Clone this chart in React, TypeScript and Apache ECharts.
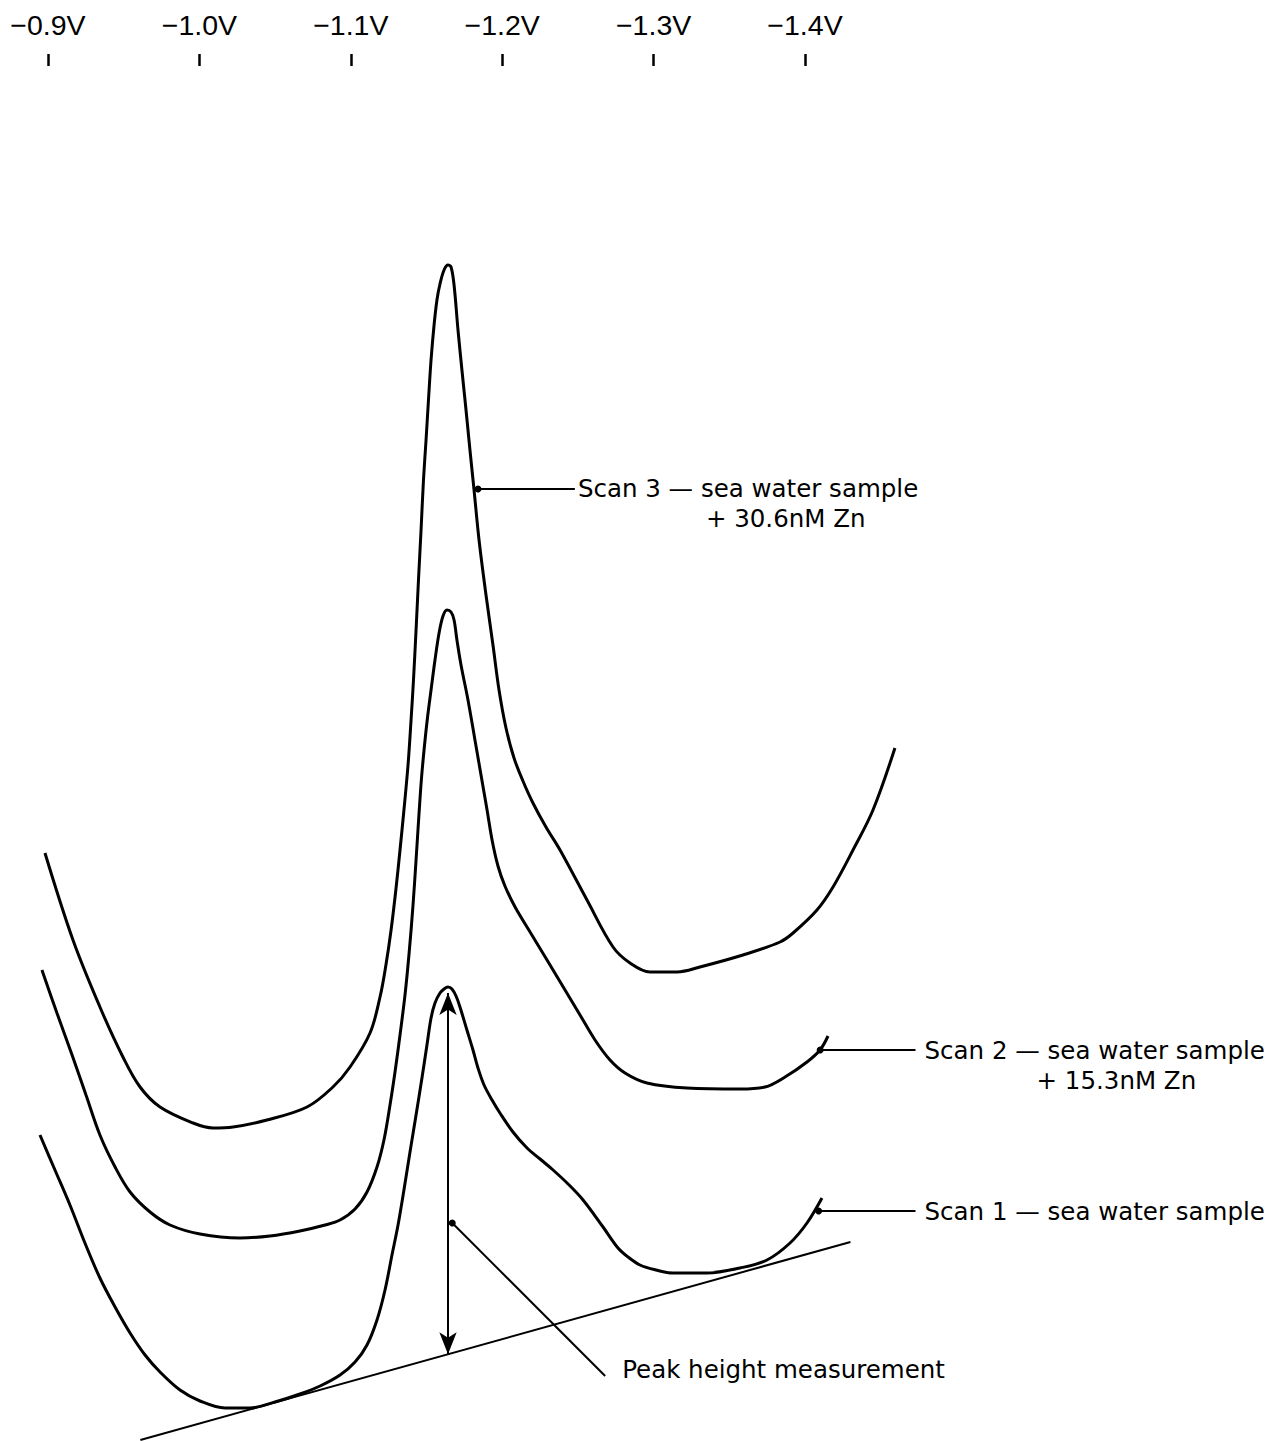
import React, { useEffect, useRef } from "react";
import * as echarts from "echarts";

// Potential axis (volts) tick values, shown along the top
const potentialTicks: number[] = [-0.9, -1.0, -1.1, -1.2, -1.3, -1.4];

// [potential (V), current (arbitrary units)]
const scan3: [number, number][] = [
  [-0.898, 58.8], [-0.9165, 50.1], [-0.9343, 43.4], [-0.9495, 38.4], [-0.9608, 35.4],
  [-0.974, 33.4], [-0.9958, 31.8], [-1.009, 31.3], [-1.0222, 31.4], [-1.0446, 32.1],
  [-1.0711, 33.4], [-1.0882, 35.4], [-1.0995, 37.4], [-1.1127, 40.8], [-1.1193, 44.4],
  [-1.1232, 47.6], [-1.1266, 51.1], [-1.1299, 55.3], [-1.1325, 59.1], [-1.1351, 63.1],
  [-1.1378, 67.6], [-1.1398, 72.1], [-1.1414, 76.1], [-1.1431, 81.1], [-1.1447, 86.1],
  [-1.1464, 91.1], [-1.148, 96.1], [-1.1497, 100.1], [-1.1513, 104.1], [-1.153, 108.1],
  [-1.155, 111.6], [-1.1569, 114.1], [-1.1589, 115.7], [-1.1616, 117.1], [-1.1642, 117.6],
  [-1.1662, 117.4], [-1.1682, 115.6], [-1.1708, 111.1], [-1.1734, 107.1], [-1.1761, 103.1],
  [-1.1787, 99.1], [-1.1814, 95.1], [-1.1847, 90.1], [-1.1893, 84.6], [-1.1939, 79.6],
  [-1.1979, 75.1], [-1.2025, 71.3], [-1.2078, 68.3], [-1.2137, 66.0], [-1.2203, 63.8],
  [-1.2289, 61.4], [-1.2382, 59.1], [-1.256, 54.1], [-1.2732, 49.4], [-1.2844, 47.8],
  [-1.2976, 46.9], [-1.3155, 46.9], [-1.3306, 47.4], [-1.359, 48.6], [-1.3835, 49.9],
  [-1.3921, 50.8], [-1.4079, 53.1], [-1.4185, 55.4], [-1.4317, 59.1], [-1.4449, 63.1],
  [-1.4594, 69.3],
];

const scan2: [number, number][] = [
  [-0.896, 47.1], [-0.9059, 42.8], [-0.9159, 38.6], [-0.9251, 34.6], [-0.9343, 30.6],
  [-0.9443, 27.4], [-0.9542, 24.9], [-0.9674, 22.9], [-0.9806, 21.6], [-1.0004, 20.7],
  [-1.0268, 20.3], [-1.0466, 20.5], [-1.0664, 21.0], [-1.083, 21.6], [-1.0929, 22.1],
  [-1.1028, 23.2], [-1.1107, 24.9], [-1.1173, 27.4], [-1.1219, 30.1], [-1.1259, 33.6],
  [-1.1292, 36.9], [-1.1325, 40.6], [-1.1358, 44.6], [-1.1384, 48.6], [-1.1411, 53.6],
  [-1.1431, 58.1], [-1.145, 62.6], [-1.1467, 66.3], [-1.1487, 69.6], [-1.1507, 72.4],
  [-1.153, 75.1], [-1.1556, 78.1], [-1.1583, 80.8], [-1.1609, 82.5], [-1.1635, 83.1],
  [-1.1662, 82.9], [-1.1682, 82.1], [-1.1701, 80.1], [-1.1728, 77.6], [-1.1774, 74.1],
  [-1.182, 70.1], [-1.186, 66.6], [-1.19, 63.1], [-1.1933, 60.1], [-1.1972, 57.5],
  [-1.2018, 55.5], [-1.2085, 53.4], [-1.2184, 50.9], [-1.2296, 48.1], [-1.2415, 45.1],
  [-1.2514, 42.6], [-1.2613, 40.1], [-1.2712, 38.1], [-1.2811, 36.8], [-1.2956, 35.8],
  [-1.3221, 35.3], [-1.3571, 35.2], [-1.3736, 35.4], [-1.3868, 36.4], [-1.4013, 37.9],
  [-1.4099, 39.1], [-1.4152, 40.5],
];

const scan1: [number, number][] = [
  [-0.8947, 30.6], [-0.9046, 27.1], [-0.9145, 23.6], [-0.9244, 19.8], [-0.9343, 16.3],
  [-0.9443, 13.4], [-0.9542, 10.8], [-0.9641, 8.6], [-0.974, 6.9], [-0.9872, 5.1],
  [-1.0004, 4.0], [-1.0169, 3.3], [-1.0334, 3.3], [-1.0499, 3.9], [-1.0664, 4.7],
  [-1.0797, 5.5], [-1.0929, 6.6], [-1.1028, 7.9], [-1.1107, 9.6], [-1.1173, 12.1],
  [-1.1226, 15.1], [-1.1272, 18.6], [-1.1312, 21.6], [-1.1351, 25.1], [-1.1391, 28.9],
  [-1.1431, 32.6], [-1.147, 36.3], [-1.1503, 39.6], [-1.153, 42.3], [-1.1556, 43.8],
  [-1.1589, 44.8], [-1.1616, 45.2], [-1.1642, 45.4], [-1.1668, 45.2], [-1.1695, 44.5],
  [-1.1721, 43.4], [-1.1767, 41.1], [-1.1807, 39.1], [-1.184, 37.3], [-1.188, 35.6],
  [-1.1933, 34.1], [-1.1985, 32.8], [-1.2071, 30.9], [-1.2164, 29.3], [-1.225, 28.2],
  [-1.2336, 27.1], [-1.2435, 25.7], [-1.2534, 24.1], [-1.2666, 21.4], [-1.2765, 19.3],
  [-1.2831, 18.4], [-1.291, 17.6], [-1.3016, 17.1], [-1.3128, 16.8], [-1.3353, 16.8],
  [-1.3571, 17.3], [-1.3749, 18.1], [-1.3901, 19.8], [-1.4013, 21.8], [-1.4112, 24.3],
];

// tangent baseline under scan 1
const baseline: [number, number][] = [[-0.961, 0.1], [-1.43, 19.9]];

// peak height arrow (potential, top current)
const peakPotential = -1.1642;
const peakTop = 44.8;

// annotation leaders: [from (dot on curve), to (text end)]
const leaderScan3: [number, number][] = [[-1.184, 95.2], [-1.248, 95.2]];
const leaderScan2: [number, number][] = [[-1.41, 39.1], [-1.473, 39.1]];
const leaderScan1: [number, number][] = [[-1.409, 23.0], [-1.473, 23.0]];
const leaderPeak: [number, number][] = [[-1.167, 21.8], [-1.268, 6.5]];

const noteScan3 = ["Scan 3 \u2014 sea water sample", "+ 30.6nM Zn"];
const noteScan2 = ["Scan 2 \u2014 sea water sample", "+ 15.3nM Zn"];
const noteScan1 = ["Scan 1 \u2014 sea water sample"];
const notePeak = "Peak height measurement";

const X_LEFT = -0.8683;
const X_RIGHT = -1.7091;
const Y_MAX = 137.5;

const NOTE_FONT = "DejaVu Sans";
const NOTE_SIZE = 24.5;

function baselineAt(p: number): number {
  const [a, b] = baseline;
  return a[1] + ((p - a[0]) / (b[0] - a[0])) * (b[1] - a[1]);
}

function curveSeries(name: string, data: [number, number][]) {
  return {
    name,
    type: "line",
    data,
    smooth: 0.35,
    symbol: "none",
    clip: false,
    lineStyle: { color: "#000", width: 3 },
    silent: true,
  };
}

function leaderSeries(name: string, pts: [number, number][]) {
  return {
    name,
    type: "line",
    clip: false,
    silent: true,
    showSymbol: true,
    showAllSymbol: true,
    symbol: "none",
    lineStyle: { color: "#000", width: 2 },
    itemStyle: { color: "#000" },
    data: [
      { value: pts[0], symbol: "circle", symbolSize: 7 },
      { value: pts[1], symbol: "none" },
    ],
  };
}

export default function App() {
  const ref = useRef<HTMLDivElement>(null);

  useEffect(() => {
    document.body.style.margin = "0";
    if (!ref.current) return;
    const chart = echarts.init(ref.current, undefined, { renderer: "svg" });
    const arrowBottom = baselineAt(peakPotential);

    chart.setOption({
      animation: false,
      backgroundColor: "#fff",
      grid: { left: 0, right: 0, top: 66, bottom: 0 },
      xAxis: {
        type: "value",
        position: "top",
        min: X_RIGHT,
        max: X_LEFT,
        inverse: true,
        axisLine: { show: false, onZero: false },
        splitLine: { show: false },
        axisTick: {
          show: true,
          inside: false,
          customValues: potentialTicks,
          length: 12,
          lineStyle: { color: "#000", width: 2.5 },
        },
        axisLabel: {
          show: true,
          customValues: potentialTicks,
          margin: 27,
          color: "#000",
          fontFamily: "Liberation Sans",
          fontSize: 28.5,
          formatter: (v: number) => "\u2212" + Math.abs(v).toFixed(1) + "V",
        },
      },
      yAxis: {
        type: "value",
        min: 0,
        max: Y_MAX,
        show: false,
        splitLine: { show: false },
      },
      series: [
        curveSeries("Scan 3", scan3),
        curveSeries("Scan 2", scan2),
        curveSeries("Scan 1", scan1),
        {
          name: "Baseline",
          type: "line",
          data: baseline,
          symbol: "none",
          clip: false,
          silent: true,
          lineStyle: { color: "#000", width: 2 },
        },
        {
          name: "Peak height",
          type: "line",
          clip: false,
          silent: true,
          showSymbol: true,
          showAllSymbol: true,
          lineStyle: { color: "#000", width: 2 },
          itemStyle: { color: "#000" },
          data: [
            {
              value: [peakPotential, peakTop],
              symbol: "arrow",
              symbolSize: [13, 22],
            },
            {
              value: [peakPotential, arrowBottom],
              symbol: "arrow",
              symbolSize: [13, 22],
              symbolRotate: 180,
            },
          ],
        },
        leaderSeries("Leader 3", leaderScan3),
        leaderSeries("Leader 2", leaderScan2),
        leaderSeries("Leader 1", leaderScan1),
        leaderSeries("Leader peak", leaderPeak),
      ],
    });

    const toPx = (p: [number, number]) =>
      chart.convertToPixel({ gridIndex: 0 }, p) as unknown as number[];

    const textEl = (x: number, y: number, text: string) => ({
      type: "text",
      x,
      y,
      silent: true,
      style: {
        text,
        fill: "#000",
        fontFamily: NOTE_FONT,
        fontSize: NOTE_SIZE,
        align: "left",
        textAlign: "left",
        verticalAlign: "middle",
        textVerticalAlign: "middle",
      },
    });

    const e3 = toPx(leaderScan3[1]);
    const e2 = toPx(leaderScan2[1]);
    const e1 = toPx(leaderScan1[1]);
    const ep = toPx(leaderPeak[1]);

    chart.setOption({
      graphic: [
        textEl(e3[0] + 3, e3[1] - 1, noteScan3[0]),
        textEl(e3[0] + 131, e3[1] + 29, noteScan3[1]),
        textEl(e2[0] + 9, e2[1], noteScan2[0]),
        textEl(e2[0] + 121, e2[1] + 30, noteScan2[1]),
        textEl(e1[0] + 9, e1[1], noteScan1[0]),
        textEl(ep[0] + 17, ep[1] - 7, notePeak),
      ],
    });

    return () => chart.dispose();
  }, []);

  return (
    <div
      ref={ref}
      style={{ position: "absolute", left: 0, top: 0, width: 1273, height: 1441 }}
    />
  );
}
